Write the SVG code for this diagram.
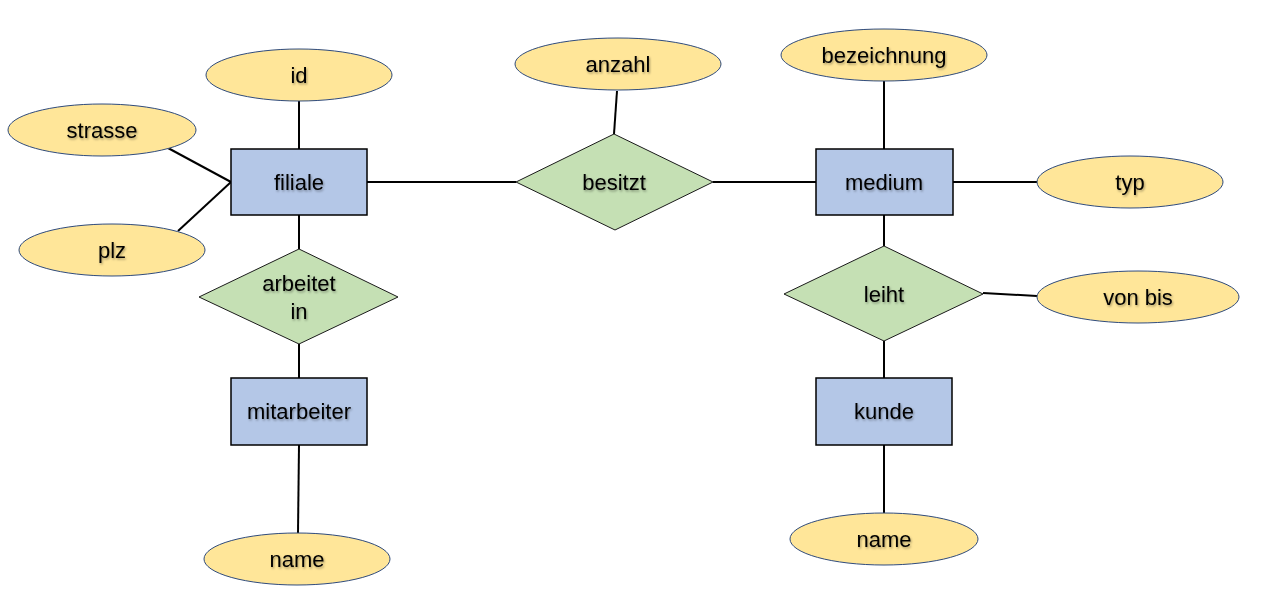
<svg xmlns="http://www.w3.org/2000/svg" width="1280" height="603" viewBox="0 0 1280 603">
<style>
.attr{fill:#FFE699;stroke:#2F4B7C;stroke-width:1}
.ent{fill:#B4C7E7;stroke:#000;stroke-width:1.5}
.rel{fill:#C5E0B4;stroke:#1a1a1a;stroke-width:1}
.c{stroke:#000;stroke-width:2;fill:none}
text{font-family:"Liberation Sans",Arial,sans-serif;font-size:22px;fill:#000;text-anchor:middle;dominant-baseline:central;filter:url(#sh)}
</style>
<defs>
<filter id="sh" x="-20%" y="-50%" width="140%" height="200%">
<feDropShadow dx="1" dy="1.5" stdDeviation="0.8" flood-color="#000" flood-opacity="0.35"/>
</filter>
</defs>
<rect width="1280" height="603" fill="#fff"/>
<g id="connectors">
<line class="c" x1="299" y1="101" x2="299" y2="149"/>
<line class="c" x1="168" y1="148" x2="231" y2="182"/>
<line class="c" x1="178" y1="231" x2="231" y2="182"/>
<line class="c" x1="299" y1="215" x2="299" y2="249"/>
<line class="c" x1="299" y1="344" x2="299" y2="378"/>
<line class="c" x1="299" y1="445" x2="298" y2="533"/>
<line class="c" x1="367" y1="182" x2="516" y2="182"/>
<line class="c" x1="713" y1="182" x2="816" y2="182"/>
<line class="c" x1="617" y1="91" x2="614" y2="134"/>
<line class="c" x1="884" y1="81" x2="884" y2="149"/>
<line class="c" x1="953" y1="182" x2="1037" y2="182"/>
<line class="c" x1="884" y1="215" x2="884" y2="246"/>
<line class="c" x1="983" y1="293" x2="1037" y2="296"/>
<line class="c" x1="884" y1="341" x2="884" y2="378"/>
<line class="c" x1="884" y1="445" x2="884" y2="513"/>
</g>
<g id="id"><ellipse class="attr" cx="299" cy="75" rx="93" ry="26"/><text x="299" y="75">id</text></g>
<g id="strasse"><ellipse class="attr" cx="102" cy="130" rx="94" ry="26"/><text x="102" y="130">strasse</text></g>
<g id="plz"><ellipse class="attr" cx="112" cy="250" rx="93" ry="26"/><text x="112" y="250">plz</text></g>
<g id="filiale"><rect class="ent" x="231" y="149" width="136" height="66"/><text x="299" y="182">filiale</text></g>
<g id="arbeitet_in"><polygon class="rel" points="299,249 398,297 299,344 199,297"/><text x="299" y="283">arbeitet</text><text x="299" y="311">in</text></g>
<g id="mitarbeiter"><rect class="ent" x="231" y="378" width="136" height="67"/><text x="299" y="411">mitarbeiter</text></g>
<g id="name_m"><ellipse class="attr" cx="297" cy="559" rx="93" ry="26"/><text x="297" y="559">name</text></g>
<g id="anzahl"><ellipse class="attr" cx="618" cy="64" rx="103" ry="26"/><text x="618" y="64">anzahl</text></g>
<g id="besitzt"><polygon class="rel" points="614,134 713,182 615,230 516,182"/><text x="614" y="182">besitzt</text></g>
<g id="bezeichnung"><ellipse class="attr" cx="884" cy="55" rx="103" ry="26"/><text x="884" y="55">bezeichnung</text></g>
<g id="medium"><rect class="ent" x="816" y="149" width="137" height="66"/><text x="884" y="182">medium</text></g>
<g id="typ"><ellipse class="attr" cx="1130" cy="182" rx="93" ry="26"/><text x="1130" y="182">typ</text></g>
<g id="leiht"><polygon class="rel" points="884,246 983,294 884,341 784,294"/><text x="884" y="294">leiht</text></g>
<g id="von_bis"><ellipse class="attr" cx="1138" cy="297" rx="101" ry="26"/><text x="1138" y="297">von bis</text></g>
<g id="kunde"><rect class="ent" x="816" y="378" width="136" height="67"/><text x="884" y="411">kunde</text></g>
<g id="name_k"><ellipse class="attr" cx="884" cy="539" rx="94" ry="26"/><text x="884" y="539">name</text></g>
</svg>
